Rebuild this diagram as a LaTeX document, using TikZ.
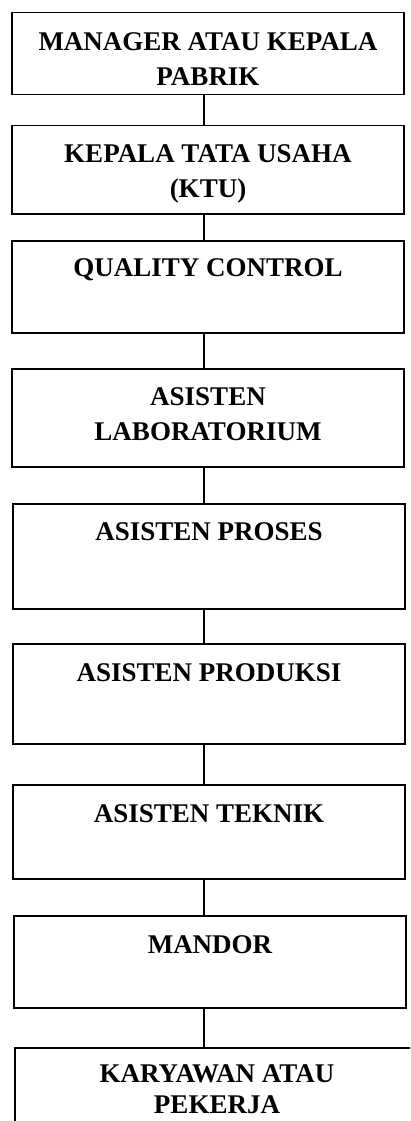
\documentclass[tikz,border=0pt]{standalone}
\usepackage{fontspec}
\setmainfont{Liberation Serif}
\usetikzlibrary{positioning}

\begin{document}
\begin{tikzpicture}[x=1pt,y=-1pt,
  kotak/.style={draw=black, line width=1.5pt, anchor=north, minimum width=392pt, inner sep=0pt},
  teks/.style={font=\bfseries\fontsize{27}{35}\selectfont, align=center, inner sep=0pt},
  garis/.style={black, line width=1.5pt}]
\useasboundingbox (0,0) rectangle (410,1121);
\clip (0,0) rectangle (410,1121);
\coordinate (lajur) at (204,0);

\node[kotak, minimum height=82pt] (manager) at (208,12) {};
\node[teks, below=20pt of manager.north] (tmanager) {MANAGER ATAU KEPALA\\PABRIK};

\node[kotak, minimum height=88pt] (ktu) at (208,125) {};
\node[teks, below=19pt of ktu.north] (tktu) {KEPALA TATA USAHA\\(KTU)};

\node[kotak, minimum height=92pt] (qc) at (208,240) {};
\node[teks, below=18pt of qc.north] (tqc) {QUALITY CONTROL};

\node[kotak, minimum height=98pt] (lab) at (208,368) {};
\node[teks, below=19pt of lab.north] (tlab) {ASISTEN\\LABORATORIUM};

\node[kotak, minimum height=105pt] (proses) at (209,503) {};
\node[teks, below=19pt of proses.north] (tproses) {ASISTEN PROSES};

\node[kotak, minimum height=100pt] (produksi) at (209,643) {};
\node[teks, below=20pt of produksi.north] (tproduksi) {ASISTEN PRODUKSI};

\node[kotak, minimum height=94pt] (teknik) at (209,784) {};
\node[teks, below=20pt of teknik.north] (tteknik) {ASISTEN TEKNIK};

\node[kotak, minimum height=92pt] (mandor) at (210,915) {};
\node[teks, below=20pt of mandor.north] (tmandor) {MANDOR};

\node[kotak, minimum height=100pt, minimum width=404pt] (karyawan) at (217,1047) {};
\node[teks, font=\bfseries\fontsize{27}{31}\selectfont, below=17pt of karyawan.north] (tkaryawan) {KARYAWAN ATAU\\PEKERJA};

\draw[garis] (manager.south -| lajur) -- (ktu.north -| lajur);
\draw[garis] (ktu.south -| lajur) -- (qc.north -| lajur);
\draw[garis] (qc.south -| lajur) -- (lab.north -| lajur);
\draw[garis] (lab.south -| lajur) -- (proses.north -| lajur);
\draw[garis] (proses.south -| lajur) -- (produksi.north -| lajur);
\draw[garis] (produksi.south -| lajur) -- (teknik.north -| lajur);
\draw[garis] (teknik.south -| lajur) -- (mandor.north -| lajur);
\draw[garis] (mandor.south -| lajur) -- (karyawan.north -| lajur);
\end{tikzpicture}
\end{document}
